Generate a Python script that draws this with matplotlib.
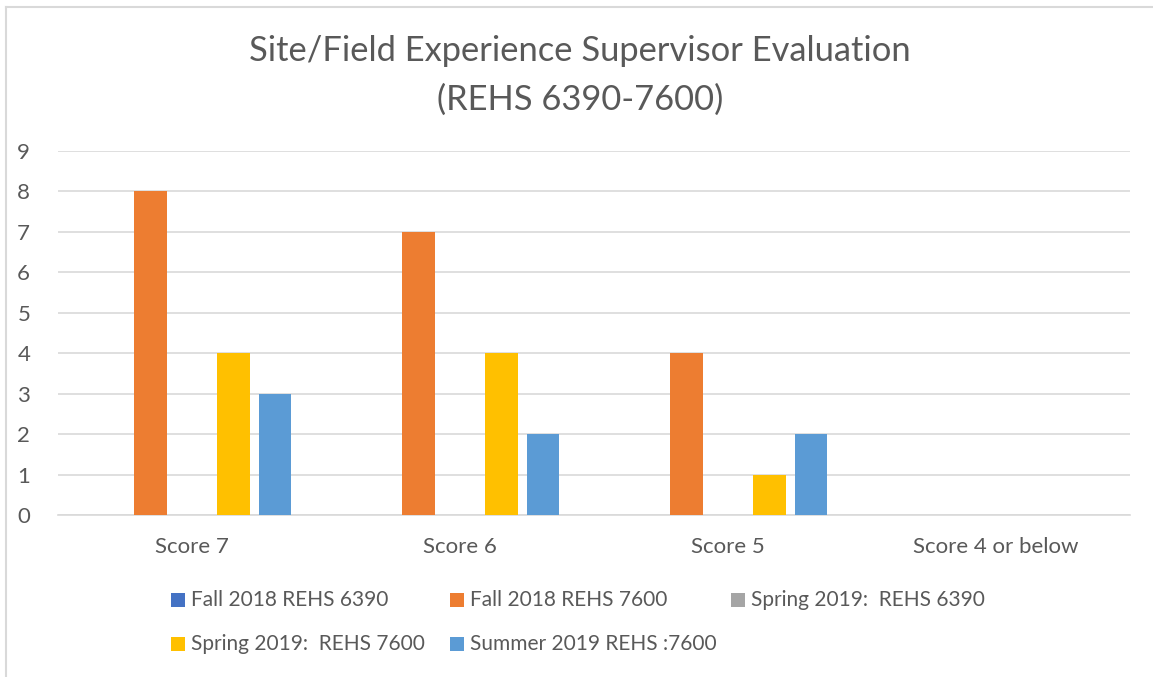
import matplotlib.pyplot as plt
import numpy as np
from matplotlib.patches import Rectangle
from matplotlib.lines import Line2D

# Дані з графіка
categories = ["Score 7", "Score 6", "Score 5", "Score 4 or below"]
series_names = ["Fall 2018 REHS 6390", "Fall 2018 REHS 7600",
                "Spring 2019:  REHS 6390", "Spring 2019:  REHS 7600",
                "Summer 2019 REHS :7600"]
fall18_6390 = [0, 0, 0, 0]
fall18_7600 = [8, 7, 4, 0]
spring19_6390 = [0, 0, 0, 0]
spring19_7600 = [4, 4, 1, 0]
summer19_7600 = [3, 2, 2, 0]
y_ticks = list(range(0, 10))

colors = ['#4472C4', '#ED7D31', '#A5A5A5', '#FFC000', '#5B9BD5']
text_color = '#595959'
grid_color = '#D9D9D9'

plt.rcParams['font.family'] = ['Lato', 'DejaVu Sans']

W, H = 1153, 677
fig = plt.figure(figsize=(W / 100, H / 100), dpi=100)
ax = fig.add_axes([0.0503, 0.2393, 0.9297, 0.5377])

all_series = [fall18_6390, fall18_7600, spring19_6390, spring19_7600, summer19_7600]
x = np.arange(len(categories))
step = 0.155
width = 0.12
for i, (vals, col) in enumerate(zip(all_series, colors)):
    ax.bar(x + (i - 2) * step, vals, width=width, color=col, zorder=3)

ax.set_xlim(-0.5, len(categories) - 0.5)
ax.set_ylim(0, 9)
ax.set_yticks(y_ticks)
ax.set_xticks(x)
ax.set_xticklabels(categories)
ax.tick_params(axis='both', length=0, labelsize=16, colors=text_color)
ax.tick_params(axis='x', pad=16)
ax.tick_params(axis='y', pad=20)
ax.grid(axis='y', color=grid_color, linewidth=1.2, zorder=0)
for side in ['top', 'right', 'left']:
    ax.spines[side].set_visible(False)
ax.spines['bottom'].set_color(grid_color)
ax.spines['bottom'].set_linewidth(1.2)

fig.text(0.503, 0.925, "Site/Field Experience Supervisor Evaluation",
         ha='center', va='center', fontsize=24.8, color=text_color)
fig.text(0.503, 0.852, "(REHS 6390-7600)",
         ha='center', va='center', fontsize=24.8, color=text_color)

# Легенда в стилі Excel: рівні колонки, заповнення по рядках
col_x = [171, 450, 731]
row_y = [600, 644]
sq = 14
for k, (name, col) in enumerate(zip(series_names, colors)):
    px = col_x[k % 3]
    py = row_y[k // 3]
    fig.patches.append(Rectangle((px / W, 1 - (py + sq / 2) / H), sq / W, sq / H,
                                 transform=fig.transFigure, facecolor=col,
                                 edgecolor='none'))
    fig.text((px + sq + 6) / W, 1 - py / H, name, ha='left', va='center',
             fontsize=15, color=text_color)

# Рамка діаграми (видно лише верх і лівий край)
fig.lines.append(Line2D([5.5 / W, 1], [1 - 6.5 / H, 1 - 6.5 / H],
                        transform=fig.transFigure, color='#D9D9D9', linewidth=1.5))
fig.lines.append(Line2D([5.5 / W, 5.5 / W], [0, 1 - 6.5 / H],
                        transform=fig.transFigure, color='#D9D9D9', linewidth=1.5))

fig.savefig('out.png', dpi=100)
